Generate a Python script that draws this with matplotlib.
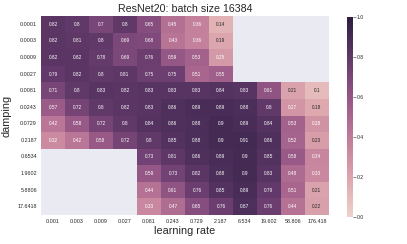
import numpy as np
import pandas as pd
import matplotlib
matplotlib.use("Agg")
import matplotlib.pyplot as plt
import seaborn as sns

# ---------- данные ----------
learning_rates = ["0.001", "0.003", "0.009", "0.027", "0.081", "0.243", "0.729",
                  "2.187", "6.534", "19.602", "58.806", "176.418"]
dampings = ["0.0001", "0.0003", "0.0009", "0.0027", "0.0081", "0.0243", "0.0729",
            "0.2187", "0.6534", "1.9602", "5.8806", "17.6418"]
n = np.nan
acc = [
    [0.82, 0.80, 0.70, 0.80, 0.65, 0.45, 0.36, 0.14, n, n, n, n],
    [0.82, 0.81, 0.80, 0.69, 0.68, 0.43, 0.36, 0.19, n, n, n, n],
    [0.82, 0.82, 0.78, 0.69, 0.76, 0.59, 0.53, 0.25, n, n, n, n],
    [0.79, 0.82, 0.80, 0.81, 0.75, 0.75, 0.51, 0.55, n, n, n, n],
    [0.71, 0.80, 0.83, 0.82, 0.83, 0.83, 0.83, 0.84, 0.83, 0.61, 0.21, 0.10],
    [0.57, 0.72, 0.80, 0.82, 0.83, 0.86, 0.89, 0.89, 0.88, 0.80, 0.27, 0.18],
    [0.42, 0.58, 0.72, 0.80, 0.84, 0.86, 0.88, 0.90, 0.89, 0.84, 0.53, 0.28],
    [0.32, 0.42, 0.58, 0.72, 0.80, 0.85, 0.88, 0.90, 0.91, 0.86, 0.52, 0.23],
    [n, n, n, n, 0.73, 0.81, 0.86, 0.89, 0.90, 0.85, 0.58, 0.34],
    [n, n, n, n, 0.59, 0.73, 0.82, 0.88, 0.90, 0.83, 0.48, 0.33],
    [n, n, n, n, 0.44, 0.61, 0.76, 0.85, 0.89, 0.79, 0.51, 0.21],
    [n, n, n, n, 0.33, 0.47, 0.65, 0.76, 0.87, 0.76, 0.44, 0.22],
]

df = pd.DataFrame(acc, index=dampings, columns=learning_rates)

# ---------- стиль ----------
sns.set_style("darkgrid")
plt.rcParams["font.family"] = ["Liberation Sans", "DejaVu Sans"]

fig = plt.figure(figsize=(4.07, 2.44), dpi=100)
ax = fig.add_axes([0.101, 0.119, 0.707, 0.815])
cax = fig.add_axes([0.852, 0.111, 0.0147, 0.82])

cmap = sns.cubehelix_palette(as_cmap=True)
sns.heatmap(df, ax=ax, cbar_ax=cax, cmap=cmap, vmin=0, vmax=1,
            annot=True, fmt=".2g", annot_kws={"fontsize": 3.4})
ax.grid(False)

ax.set_title("ResNet20: batch size 16384", fontsize=7.7, pad=3)
ax.set_xlabel("learning rate", fontsize=7.8, labelpad=1)
ax.set_ylabel("damping", fontsize=7.8, labelpad=4)
ax.tick_params(axis="both", labelsize=3.9, length=0, pad=3)
plt.setp(ax.get_yticklabels(), rotation=0)
plt.setp(ax.get_xticklabels(), rotation=0)

cax.set_yticks([0.0, 0.2, 0.4, 0.6, 0.8, 1.0])
cax.tick_params(labelsize=3.7, length=2, width=0.4, pad=1)

fig.savefig("out.png", dpi=100)
